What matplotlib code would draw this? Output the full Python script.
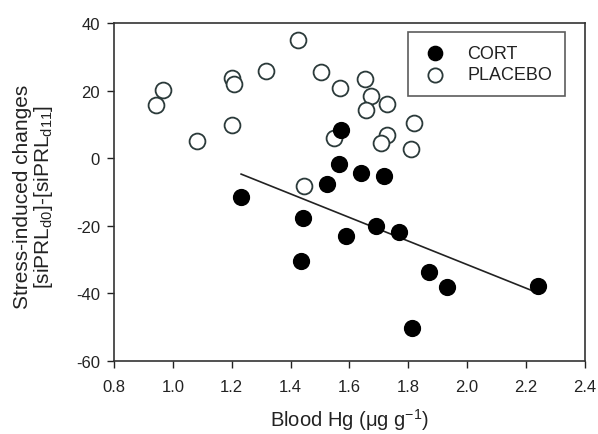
import numpy as np
import matplotlib
matplotlib.use("Agg")
import matplotlib.pyplot as plt

plt.rcParams['font.family'] = ['Liberation Sans', 'DejaVu Sans']
plt.rcParams['mathtext.fontset'] = 'custom'
plt.rcParams['mathtext.rm'] = 'Liberation Sans'
plt.rcParams['mathtext.it'] = 'Liberation Sans:italic'
plt.rcParams['axes.unicode_minus'] = False

# CORT group (filled circles)
cort_x = [1.573, 1.566, 1.641, 1.719, 1.525, 1.232, 1.443, 1.587, 1.689,
          1.770, 1.437, 1.814, 1.869, 1.930, 2.240]
cort_y = [8.3, -1.7, -4.4, -5.3, -7.7, -11.5, -17.8, -23.0, -20.1,
          -21.8, -30.4, -50.2, -33.7, -38.1, -37.8]

# PLACEBO group (open circles)
plac_x = [0.943, 0.967, 1.083, 1.202, 1.202, 1.208, 1.317, 1.426, 1.505,
          1.569, 1.549, 1.654, 1.675, 1.658, 1.729, 1.729, 1.709, 1.808,
          1.821, 1.447]
plac_y = [15.7, 20.2, 5.1, 9.8, 23.7, 22.0, 25.8, 35.0, 25.5,
          20.8, 6.0, 23.4, 18.4, 14.3, 16.0, 6.9, 4.5, 2.7,
          10.4, -8.2]

# regression line for CORT, drawn between these x limits
fit_x = [1.232, 2.233]
fit_y = [-4.7, -39.6]

xticks = [0.8, 1.0, 1.2, 1.4, 1.6, 1.8, 2.0, 2.2, 2.4]
yticks = [-60, -40, -20, 0, 20, 40]

fig = plt.figure(figsize=(5.98, 4.35), dpi=100)
ax = fig.add_axes([0.1906, 0.1678, 0.7874, 0.777])

ax.plot(fit_x, fit_y, color='#222222', lw=1.2, zorder=1)
ax.scatter(cort_x, cort_y, s=130, c='black', edgecolors='black',
           linewidths=1.0, zorder=3, label='CORT')
ax.scatter(plac_x, plac_y, s=130, c='white', edgecolors='#2b3a3a',
           linewidths=1.3, zorder=2, label='PLACEBO')

ax.set_xlim(0.8, 2.4)
ax.set_ylim(-60, 40)
ax.set_xticks(xticks)
ax.set_xticklabels(['%.1f' % v for v in xticks])
ax.set_yticks(yticks)
ax.tick_params(direction='out', length=5, width=1, labelsize=12,
               colors='#222222', pad=5)
ax.tick_params(axis='x', pad=8)
for s in ax.spines.values():
    s.set_color('#333333')
    s.set_linewidth(1.2)

ax.set_xlabel('Blood Hg (μg g$^{-1}$)', fontsize=14.5, labelpad=9,
              color='#222222')
ax.set_ylabel('Stress-induced changes\n[siPRL$_{\\mathrm{d0}}$]-[siPRL$_{\\mathrm{d11}}$]',
              fontsize=15, linespacing=1.0, color='#222222')
ax.yaxis.set_label_coords(-0.125, 0.488)

leg = ax.legend(loc='upper right', bbox_to_anchor=(0.9575, 0.973),
                fontsize=13, frameon=True, fancybox=False,
                handlelength=1.6, handletextpad=1.0, borderpad=0.7,
                labelspacing=0.25, borderaxespad=0, markerscale=0.9)
leg.get_frame().set_edgecolor('#333333')
leg.get_frame().set_linewidth(1.2)
for t in leg.get_texts():
    t.set_color('#222222')

fig.savefig('out.png', dpi=100)
